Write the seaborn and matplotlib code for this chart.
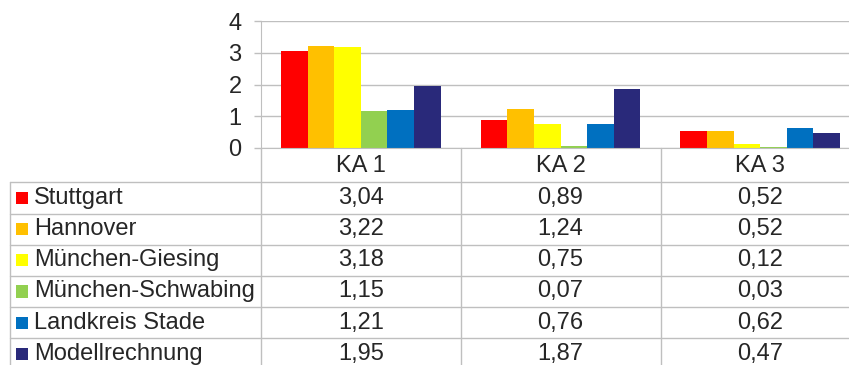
import numpy as np
import pandas as pd
import seaborn as sns
import matplotlib.pyplot as plt
from matplotlib.lines import Line2D
from matplotlib.patches import Rectangle
from matplotlib.transforms import blended_transform_factory

categories = ["KA 1", "KA 2", "KA 3"]
places = ["Stuttgart", "Hannover", "München-Giesing", "München-Schwabing",
          "Landkreis Stade", "Modellrechnung"]
stuttgart = [3.04, 0.89, 0.52]
hannover = [3.22, 1.24, 0.52]
giesing = [3.18, 0.75, 0.12]
schwabing = [1.15, 0.07, 0.03]
stade = [1.21, 0.76, 0.62]
modell = [1.95, 1.87, 0.47]
yticks = [0, 1, 2, 3, 4]
colors = ["#FF0000", "#FFC000", "#FFFF00", "#92D050", "#0070C0", "#29297A"]

series = [stuttgart, hannover, giesing, schwabing, stade, modell]
rows = []
for name, vals in zip(places, series):
    for cat, v in zip(categories, vals):
        rows.append({"KA": cat, "Ort": name, "Wert": v})
df = pd.DataFrame(rows)

sns.set_style("white")
plt.rcParams['font.family'] = ['Liberation Sans', 'DejaVu Sans']

W, H = 849, 365
grid_col = "#BFBFBF"
fs = 17

def fx(px):
    return px / W

def fy(py):
    return 1 - py / H

fig = plt.figure(figsize=(W / 100, H / 100), dpi=100)
ax = fig.add_axes([fx(261), fy(148), fx(860) - fx(261), fy(21) - fy(148)])

sns.barplot(data=df, x="KA", y="Wert", hue="Ort", order=categories, hue_order=places,
            palette=colors, width=0.8, linewidth=0, saturation=1, legend=False, ax=ax)
ax.set_xlim(-0.5, 2.5)
ax.set_ylim(0, 4)
ax.set_yticks(yticks)
ax.set_yticklabels([str(t) for t in yticks], fontsize=fs)
ax.set_xticks([])
ax.set_xlabel("")
ax.set_ylabel("")
ax.yaxis.grid(True, color=grid_col, lw=1)
ax.set_axisbelow(True)
ax.tick_params(axis="y", length=5, width=1, color=grid_col, pad=9, left=True)
for s in ["top", "right"]:
    ax.spines[s].set_visible(False)
ax.spines["left"].set_color(grid_col)
ax.spines["bottom"].set_color(grid_col)

# data table below the chart
row_top = 182.3
row_h = 31.2
bounds = [row_top + row_h * i for i in range(len(places) + 1)]

def hline(y, x0, x1):
    fig.add_artist(Line2D([fx(x0), fx(x1)], [fy(y), fy(y)], color=grid_col, lw=1,
                          transform=fig.transFigure))

def vline(x, y0, y1):
    fig.add_artist(Line2D([fx(x), fx(x)], [fy(y0), fy(y1)], color=grid_col, lw=1,
                          transform=fig.transFigure))

for b in bounds[:-1]:
    hline(b, 9.5, W)
vline(9.5, row_top, H)
vline(261, 148, H)
vline(460.5, 148, H)
vline(660.5, 148, H)

trans = blended_transform_factory(ax.transData, fig.transFigure)
for i, cat in enumerate(categories):
    fig.text(i, fy(166), cat, transform=trans, ha="center", va="center", fontsize=fs)

for r, (name, vals, col) in enumerate(zip(places, series, colors)):
    yc = bounds[r] + row_h / 2
    fig.add_artist(Rectangle((fx(16), fy(yc + 6)), fx(12), fy(yc - 6) - fy(yc + 6),
                             facecolor=col, edgecolor="none", transform=fig.transFigure))
    fig.text(fx(34), fy(yc), name, ha="left", va="center", fontsize=fs)
    for i, v in enumerate(vals):
        fig.text(i, fy(yc), f"{v:.2f}".replace(".", ","), transform=trans,
                 ha="center", va="center", fontsize=fs)

fig.savefig("out.png", dpi=100)
